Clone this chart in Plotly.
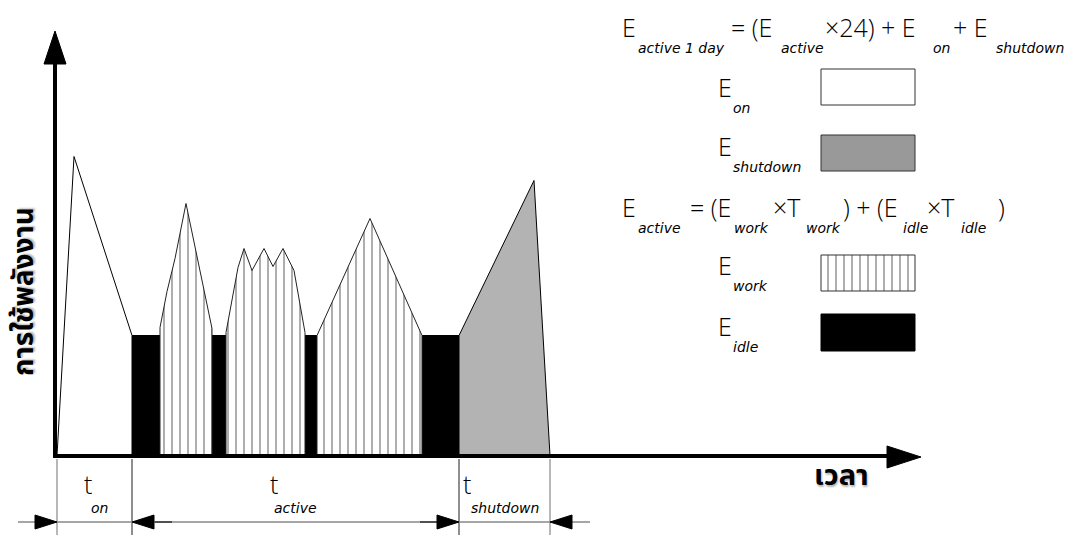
import plotly.graph_objects as go

# ---------------- data (time units, power units) ----------------
startup_t = [2, 19, 77, 77]
startup_p = [0, 299, 120, 0]

idle_start = [77, 157, 250, 367]
idle_end = [105, 171, 262, 404]
idle_level = 120

work1_t = [105, 112, 120, 131, 143, 151, 157]
work1_p = [128, 164, 197, 252, 195, 158, 127]
work2_t = [171, 183, 189, 197, 209, 218, 228, 239, 250]
work2_p = [123, 188, 207, 185, 207, 189, 207, 185, 123]
work3_t = [262, 315, 367]
work3_p = [120, 237, 120]

shutdown_t = [404, 479, 495]
shutdown_p = [120, 275, 0]

phase_bounds = [2, 77, 404, 495]
phase_names = ["on", "active", "shutdown"]

y_title = "การใช้พลังงาน"
x_title = "เวลา"

# ---------------- styles ----------------
FONT = "'Open Sans', Lato, sans-serif"
SUBFONT = "'DejaVu Sans', 'Open Sans', sans-serif"
THAI = "'Noto Sans Thai', 'Noto Sans', 'DejaVu Sans', sans-serif"
HATCH = dict(shape="|", fgcolor="black", bgcolor="white", size=8, solidity=0.16)
SHUT_FILL = "#b3b3b3"
T_OFFSET = [25, 136, 2]      # left offset of the "t" glyph within each phase (px)
SUB_OFFSET = [5, 0, 0]       # shift of the subscript centre from the phase middle (px)

fig = go.Figure()

def poly(t, p, **kw):
    xs = [t[0]] + list(t) + [t[-1], t[0]]
    ys = [0] + list(p) + [0, 0]
    fig.add_trace(go.Scatter(x=xs, y=ys, mode="lines", fill="toself",
                             hoverinfo="skip", showlegend=False, **kw))

# idle blocks
for a, b in zip(idle_start, idle_end):
    fig.add_trace(go.Scatter(x=[a, a, b, b, a], y=[0, idle_level, idle_level, 0, 0],
                             mode="lines", fill="toself", fillcolor="black",
                             line=dict(color="black", width=1), hoverinfo="skip", showlegend=False))
# work areas
for t, p in [(work1_t, work1_p), (work2_t, work2_p), (work3_t, work3_p)]:
    poly(t, p, fillcolor="white", fillpattern=HATCH, line=dict(color="#222", width=1))
# startup
fig.add_trace(go.Scatter(x=startup_t + [startup_t[0]], y=startup_p + [startup_p[0]], mode="lines",
                         fill="toself", fillcolor="white", line=dict(color="black", width=1),
                         hoverinfo="skip", showlegend=False))
# shutdown
fig.add_trace(go.Scatter(x=[shutdown_t[0]] + shutdown_t + [shutdown_t[0]],
                         y=[0] + shutdown_p + [0], mode="lines", fill="toself",
                         fillcolor=SHUT_FILL, line=dict(color="black", width=1),
                         hoverinfo="skip", showlegend=False))

# ---------------- key boxes (pixel overlay axes) ----------------
def box(x0, x1, y0, y1, **kw):
    fig.add_trace(go.Scatter(x=[x0, x1, x1, x0, x0], y=[y0, y0, y1, y1, y0], mode="lines",
                             fill="toself", xaxis="x2", yaxis="y2", hoverinfo="skip",
                             showlegend=False, **kw))

box(821, 915, 69, 105, fillcolor="white", line=dict(color="#333", width=1))
box(821, 915, 135, 171, fillcolor="#999999", line=dict(color="#333", width=1))
box(821, 915, 255, 291, fillcolor="white", fillpattern=HATCH, line=dict(color="#333", width=1))
box(821, 915, 314, 351, fillcolor="black", line=dict(color="black", width=1))

shapes = []
# axes lines + arrows (pixel coords)
shapes.append(dict(type="line", xref="x2", yref="y2", x0=55, x1=55, y0=456, y1=60,
                   line=dict(color="black", width=4)))
shapes.append(dict(type="path", xref="x2", yref="y2", path="M 55 31 L 44 64 L 66 64 Z",
                   fillcolor="black", line=dict(color="black", width=1)))
shapes.append(dict(type="line", xref="x2", yref="y2", x0=53, x1=890, y0=456, y1=456,
                   line=dict(color="black", width=4)))
shapes.append(dict(type="path", xref="x2", yref="y2", path="M 921 457 L 887 446 L 887 468 Z",
                   fillcolor="black", line=dict(color="black", width=1)))

# dimension lines below axis
for i, b in enumerate(phase_bounds):
    col = "#444" if i in (1, 2) else "#888"
    shapes.append(dict(type="line", xref="x", yref="y2", x0=b, x1=b, y0=459, y1=535,
                       line=dict(color=col, width=1.2)))
shapes.append(dict(type="line", xref="x2", yref="y2", x0=18, x1=590, y0=522, y1=522,
                   line=dict(color="#888", width=1.3)))
for x0, x1 in [(155, 172), (420, 437)]:
    shapes.append(dict(type="line", xref="x2", yref="y2", x0=x0, x1=x1, y0=522, y1=522,
                       line=dict(color="#333", width=1.5)))
for tip, d in [(57, -1), (132, 1), (459, -1), (550, 1)]:
    b = tip + 22 * d
    shapes.append(dict(type="path", xref="x2", yref="y2",
                       path=f"M {tip} 522 L {b} 515 L {b} 529 Z",
                       fillcolor="black", line=dict(color="black", width=1)))

ann = []
def txt(x, y, s, size, anchor="left", italic=False, family=FONT, weight=300, shadow=None, **kw):
    if italic:
        s = f"<i>{s}</i>"
    font = dict(family=family, size=size, color="black", weight=weight)
    if shadow:
        font["shadow"] = shadow
    ann.append(dict(xref="x2", yref="y2", x=x, y=y, text=s, showarrow=False,
                    xanchor=anchor, yanchor="middle", font=font, **kw))

def sub(x, y, s, anchor="left"):
    txt(x, y, s, 14, anchor=anchor, italic=True, family=SUBFONT, weight=200)

BIG = 25
# equation 1
for x, s in [(620, "E"), (729, "= (E"), (823, "×24) + E"), (951, "+ E")]:
    txt(x, 27, s, BIG)
for x, s in [(636, "active 1 day"), (779, "active"), (931, "on"), (994, "shutdown")]:
    sub(x, 48, s)
# equation 2
for x, s in [(620, "E"), (688, "= (E"), (771, "×T"), (841, ") + (E"), (925, "×T"), (996, ")")]:
    txt(x, 207, s, BIG)
for x, s in [(636, "active"), (732, "work"), (804, "work"), (901, "idle"), (959, "idle")]:
    sub(x, 228, s)
# key labels
for y, s in [(87, "on"), (146, "shutdown"), (265, "work"), (326, "idle")]:
    txt(716, y, "E", BIG)
    sub(731, y + 21, s)

# phase labels below axis
for i, name in enumerate(phase_names):
    a, b = phase_bounds[i], phase_bounds[i + 1]
    txt(55 + a + T_OFFSET[i], 484, "t", 25)
    sub(55 + (a + b) / 2 + SUB_OFFSET[i], 508, name, anchor="center")

# axis titles
SH = "1px 2px 2px #b5b5b5"
txt(24, 292, f"<b>{y_title}</b>", 28, anchor="center", family=THAI, weight=700,
    shadow=SH, textangle=-90)
txt(841, 476, f"<b>{x_title}</b>", 29, anchor="center", family=THAI, weight=700, shadow=SH)

fig.update_layout(
    width=1072, height=535, margin=dict(l=0, r=0, t=0, b=0),
    paper_bgcolor="white", plot_bgcolor="white",
    xaxis=dict(range=[-55, 1017], visible=False, fixedrange=True),
    yaxis=dict(range=[-79.5, 455.5], visible=False, fixedrange=True),
    xaxis2=dict(range=[0, 1072], visible=False, overlaying="x", fixedrange=True),
    yaxis2=dict(range=[535, 0], visible=False, overlaying="y", fixedrange=True),
    shapes=shapes, annotations=ann, showlegend=False,
)
fig.write_html("out.html", config={"displayModeBar": False},
               post_script="document.body.style.margin='0';document.body.style.overflow='hidden';")
